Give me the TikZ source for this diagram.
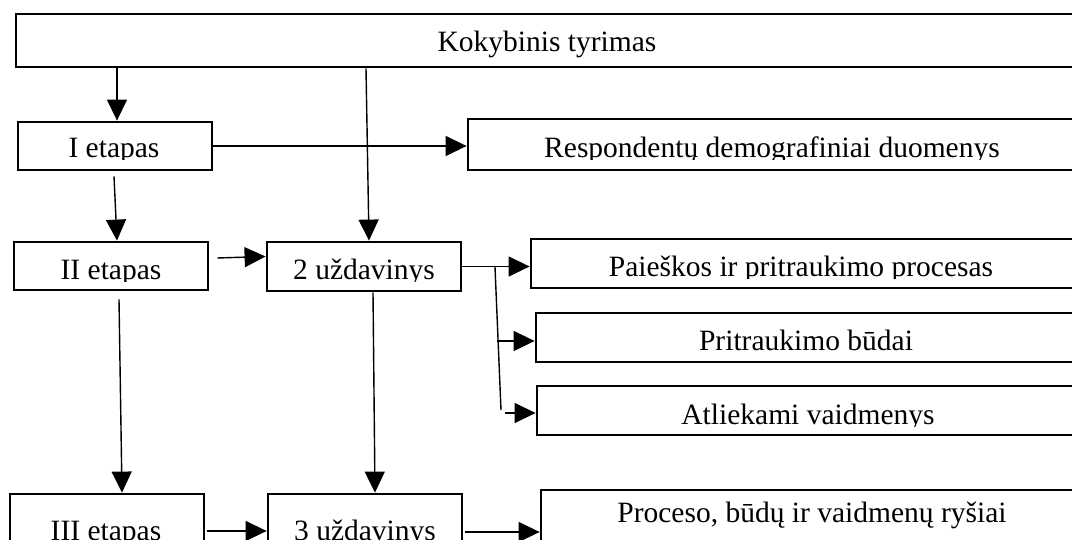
\documentclass[tikz,border=0pt]{standalone}
\usepackage{fontspec}
\setmainfont{Liberation Serif}
\usetikzlibrary{arrows.meta}

\tikzset{
  box/.style={draw, line width=2.8pt, inner sep=0pt, fill=white},
  lbl/.style={anchor=base, inner sep=0pt, font=\fontsize{29.5}{32}\selectfont},
  conn/.style={line width=1.4pt},
  arr/.style={conn, -{Triangle[length=21pt,width=20pt]}},
}

% box given by its corners: name, x1, y1, x2, y2
\newcommand{\mybox}[5]{%
  \node[box, minimum width={#4-#2}, minimum height={#5-#3}] (#1)
    at ({(#2+#4)/2},{(#3+#5)/2}) {};}

% label cut off just under its baseline: name, centre x, baseline y, cut y, text
\newcommand{\mylabel}[5]{%
  \begin{scope}
    \clip ({#2-320},{#3-45}) rectangle ({#2+320},#4);
    \node[lbl] (#1) at (#2,#3) {#5};
  \end{scope}}

\begin{document}
\begin{tikzpicture}[x=1pt, y=-1pt]
  \useasboundingbox (0,0) rectangle (1072,540);
  \clip (0,0) rectangle (1072,540);
  \fill[white] (0,0) rectangle (1072,540);

  % boxes
  \mybox{top}{16}{14}{1090}{67}
  \mybox{i1}{18}{122}{212}{170}
  \mybox{resp}{468}{119}{1090}{170}
  \mybox{i2}{14}{242}{208}{290}
  \mybox{u2}{267}{242}{461}{291}
  \mybox{p1}{531}{239}{1090}{288}
  \mybox{p2}{536}{313}{1090}{362}
  \mybox{p3}{537}{386}{1090}{435}
  \mybox{i3}{10}{494}{204}{580}
  \mybox{u3}{268}{494}{462}{580}
  \mybox{p4}{541}{490}{1090}{580}

  % texts
  \node[lbl] (top-t) at (547,52) {Kokybinis tyrimas};
  \mylabel{i1-t}{114}{158}{160}{I etapas}
  \mylabel{resp-t}{772}{158}{160}{Respondentų demografiniai duomenys}
  \mylabel{i2-t}{111}{280}{282}{II etapas}
  \mylabel{u2-t}{364}{280}{282}{2 uždavinys}
  \mylabel{p1-t}{801}{277}{279}{Paieškos ir pritraukimo procesas}
  \node[lbl] (p2-t) at (806,351) {Pritraukimo būdai};
  \mylabel{p3-t}{808}{424}{426}{Atliekami vaidmenys}
  \node[lbl] (i3-t) at (106,540) {III etapas};
  \node[lbl] (u3-t) at (365,540) {3 uždavinys};
  \node[lbl] (p4-t) at (812,522) {Proceso, būdų ir vaidmenų ryšiai};

  % connectors
  \draw[arr] ([xshift=2pt]i1.north |- top.south) -- ([xshift=2pt]i1.north);
  \draw[arr] ([xshift=2pt]u2.north |- top.south) -- ([xshift=5pt]u2.north);
  \draw[arr] (i1.east) -- (i1.east -| resp.west);
  \draw[arr] ([xshift=-1pt,yshift=-5pt]i1.south) -- ([xshift=6pt]i2.north);
  \draw[arr] ([xshift=8pt,yshift=8pt]i2.east) -- ([yshift=10pt]u2.west);
  \draw[arr] ([xshift=8pt,yshift=-8pt]i2.south) -- ([xshift=15pt]i3.north);
  \draw[arr] ([xshift=9pt]u2.south) -- ([xshift=10pt]u3.north);
  \draw[arr] (u2.east) -- (u2.east -| p1.west);

  % branch towards the lower boxes
  \coordinate (b0) at (495,267);
  \coordinate (b1) at (501,410);
  \coordinate (b2) at (497,341);
  \coordinate (b3) at (505,413);
  \draw[conn] (b0) -- (b1);
  \draw[arr] (b2) -- (b2 -| p2.west);
  \draw[arr] (b3) -- (b3 -| p3.west);

  \draw[arr] ([xshift=2pt,yshift=6pt]i3.east) -- ([yshift=6pt]i3.east -| u3.west);
  \draw[arr] ([xshift=2pt,yshift=5pt]u3.east) -- ([yshift=5pt]u3.east -| p4.west);
\end{tikzpicture}
\end{document}
